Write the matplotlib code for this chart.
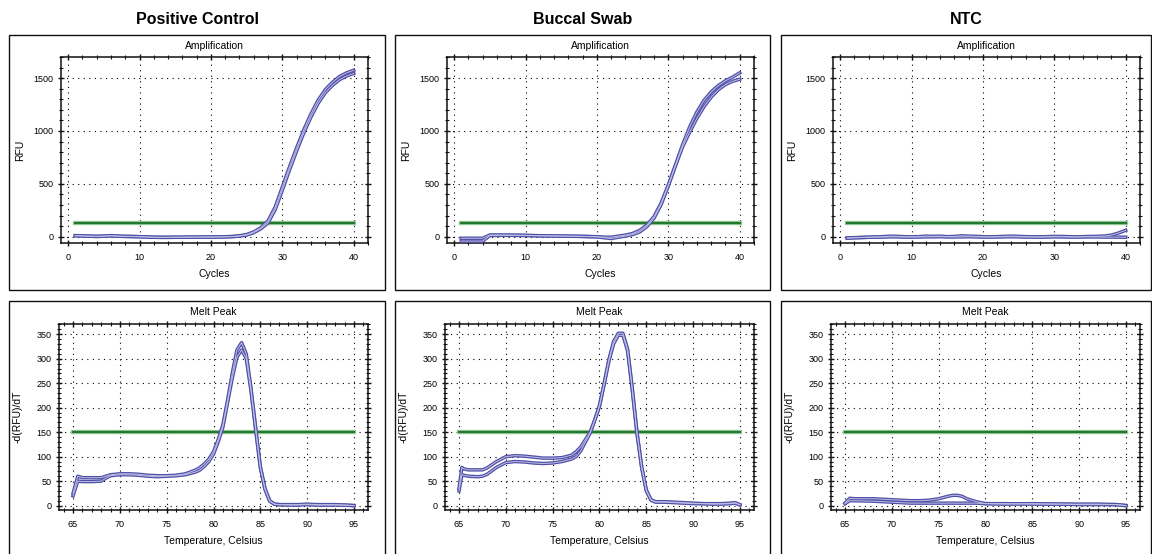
# qPCR amplification and melt peak panels

import numpy as np
import matplotlib
matplotlib.use('Agg')
import matplotlib.pyplot as plt
from matplotlib.patches import Rectangle
from matplotlib.ticker import MultipleLocator

plt.rcParams['font.family'] = ['Liberation Sans', 'DejaVu Sans']

W, H = 1152, 554

# ---- data ----
groups = ['Positive Control', 'Buccal Swab', 'NTC']

cycles = np.arange(1, 41)

pc_amp_a = [10, 8, 5, 3, 5, 10, 5, 3, 2, 0, -2, -5, -6, -6, -5, -5, -4, -4, -3, -3,
            -2, -1, 2, 8, 20, 45, 85, 150, 280, 470, 660, 840, 1010, 1160, 1290, 1390,
            1460, 1515, 1550, 1575]
pc_amp_b = [8, 6, 4, 2, 4, 8, 4, 2, 1, -1, -3, -6, -7, -7, -6, -6, -5, -5, -4, -4,
            -3, -2, 0, 5, 15, 38, 75, 130, 255, 440, 630, 810, 980, 1130, 1260, 1360,
            1430, 1485, 1520, 1545]

bs_amp_a = [-15, -15, -15, -15, 16, 16, 15, 15, 14, 13, 11, 9, 8, 7, 6, 5, 4, 3, 1, 0,
            -5, -5, 5, 15, 30, 60, 110, 190, 320, 490, 680, 870, 1040, 1180, 1290, 1370,
            1430, 1475, 1510, 1550]
bs_amp_b = [-42, -42, -42, -42, 10, 12, 12, 12, 11, 10, 9, 8, 7, 6, 5, 4, 3, 2, 0, -2,
            -10, -18, -5, 5, 20, 45, 95, 175, 305, 480, 670, 850, 990, 1120, 1230, 1320,
            1390, 1440, 1470, 1490]

ntc_amp_a = [-15, -10, -8, -5, -3, 0, 5, 3, 0, -2, 0, 5, 3, 5, 0, 2, 8, 5, 3, 0,
             -2, 0, 3, 5, 3, 0, -2, -3, 0, 3, 2, 0, -2, 0, 2, 3, 6, 15, 35, 60]
ntc_amp_b = [-12, -10, -8, -6, -5, -4, -2, -2, -3, -4, -3, -2, -2, -1, -2, -3, -2, -1, -2, -3,
             -3, -2, -2, -1, -2, -3, -3, -4, -3, -2, -2, -3, -3, -2, -2, -3, -4, -4, -5, -5]

amp_threshold = 125

pc_melt_t = [65, 65.5, 66, 67, 68, 68.5, 69, 70, 71, 72, 73, 74, 75, 76, 77, 78, 78.5, 79,
             79.5, 80, 80.5, 81, 81.5, 82, 82.5, 83, 83.5, 84, 84.5, 85, 85.5, 86, 86.5,
             87, 88, 89, 90, 91, 92, 93, 94, 95]
pc_melt_a = [25, 60, 57, 57, 57, 60, 63, 65, 65, 64, 62, 61, 61, 62, 65, 72, 77, 85,
             95, 110, 135, 165, 215, 270, 318, 333, 310, 240, 160, 80, 35, 10, 3,
             2, 2, 2, 3, 2, 2, 2, 1, 0]
pc_melt_b = [20, 50, 49, 49, 50, 56, 61, 63, 63, 62, 60, 59, 60, 61, 63, 68, 72, 80,
             90, 105, 130, 160, 210, 260, 303, 318, 300, 235, 155, 78, 33, 9, 3,
             2, 1, 1, 2, 1, 1, 1, 1, 0]

bs_melt_t = [65, 65.3, 65.5, 66, 67, 67.5, 68, 69, 70, 71, 72, 73, 74, 75, 76, 77, 77.5,
             78, 78.5, 79, 79.5, 80, 80.5, 81, 81.5, 82, 82.5, 83, 83.5, 84, 84.5, 85,
             85.5, 86, 87, 88, 89, 90, 91, 92, 93, 94, 94.5, 95]
bs_melt_a = [35, 78, 75, 73, 73, 73, 77, 90, 100, 102, 101, 99, 97, 97, 98, 103, 110,
             120, 135, 150, 175, 205, 250, 298, 335, 352, 352, 320, 240, 150, 80, 32,
             12, 8, 8, 7, 6, 5, 4, 4, 4, 5, 6, 2]
bs_melt_b = [30, 63, 62, 60, 59, 60, 64, 78, 88, 90, 89, 87, 86, 87, 90, 95, 100,
             112, 130, 148, 175, 203, 248, 295, 330, 348, 348, 316, 236, 148, 78, 30,
             11, 7, 7, 6, 5, 4, 4, 3, 3, 4, 5, 1]

ntc_melt_t = [65, 65.5, 66, 68, 70, 72, 73, 74, 75, 76, 76.5, 77, 77.5, 78, 79, 80, 82,
              85, 88, 90, 92, 94, 95]
ntc_melt_a = [5, 15, 14, 14, 12, 10, 10, 11, 14, 19, 21, 21, 19, 14, 8, 4, 3,
              4, 3, 3, 3, 2, 0]
ntc_melt_b = [4, 10, 10, 9, 7, 5, 5, 5, 5, 5, 5, 5, 5, 5, 5, 4, 4,
              3, 3, 2, 2, 2, 0]

melt_threshold = 150

amp_data = [(pc_amp_a, pc_amp_b), (bs_amp_a, bs_amp_b), (ntc_amp_a, ntc_amp_b)]
melt_data = [(pc_melt_t, pc_melt_a, pc_melt_b),
             (bs_melt_t, bs_melt_a, bs_melt_b),
             (ntc_melt_t, ntc_melt_a, ntc_melt_b)]


def fx(px):
    return px / W


def fy(py):
    return 1 - py / H


def add_ax(fig, left, top, right, bottom):
    return fig.add_axes([fx(left), fy(bottom), fx(right - left), (bottom - top) / H])


def curve(ax, x, y):
    # tube look: darker rim, light core
    ax.plot(x, y, color='#5050a8', lw=2.5, solid_joinstyle='round', zorder=3)
    ax.plot(x, y, color='#c0c0e6', lw=0.7, solid_joinstyle='round', zorder=4)


def threshold(ax, x0, x1, val):
    ax.plot([x0, x1], [val, val], color='#a8d4a8', lw=3.2, zorder=2)
    ax.plot([x0, x1], [val, val], color='#24772f', lw=1.7, zorder=2.5)


def style(ax, xmaj, xmin, ymaj, ymin):
    ax.xaxis.set_major_locator(MultipleLocator(xmaj))
    ax.xaxis.set_minor_locator(MultipleLocator(xmin))
    ax.yaxis.set_major_locator(MultipleLocator(ymaj))
    ax.yaxis.set_minor_locator(MultipleLocator(ymin))
    ax.tick_params(which='major', direction='inout', length=5, width=1.0,
                   labelsize=6.5, top=True, right=True, color='#111111')
    ax.tick_params(which='minor', direction='inout', length=3, width=0.8,
                   top=True, right=True, color='#111111')
    ax.tick_params(axis='x', which='major', pad=5)
    ax.tick_params(axis='y', which='major', pad=3)
    ax.grid(True, which='major', color='black', lw=0.8, linestyle=(0, (1, 4)))
    for s in ax.spines.values():
        s.set_linewidth(1.1)
        s.set_color('#111111')


fig = plt.figure(figsize=(W / 100, H / 100), dpi=100)

col_shift = [0, 386, 772]
box_lr = [(9, 385), (395, 770), (781, 1151)]

for i in range(3):
    d = col_shift[i]
    bl, br = box_lr[i]

    # panel frames
    fig.patches.append(Rectangle((fx(bl), fy(290)), fx(br - bl), (290 - 35) / H,
                                 transform=fig.transFigure, fill=False,
                                 edgecolor='#111111', lw=1.0))
    fig.patches.append(Rectangle((fx(bl), fy(570)), fx(br - bl), (570 - 301) / H,
                                 transform=fig.transFigure, fill=False,
                                 edgecolor='#111111', lw=1.0))

    cx = (bl + br) / 2
    fig.text(fx(cx), fy(19), groups[i], ha='center', va='center',
             fontsize=11.5, fontweight='bold')

    # amplification
    ax = add_ax(fig, 61 + d, 57, 368 + d, 243)
    a, b = amp_data[i]
    threshold(ax, 1, 40, amp_threshold)
    curve(ax, cycles, a)
    curve(ax, cycles, b)
    ax.set_xlim(-1, 42)
    ax.set_ylim(-60, 1700)
    style(ax, 10, 2, 500, 100)
    fig.text(fx((61 + 368) / 2 + d), fy(46), 'Amplification', ha='center',
             va='center', fontsize=7.5)
    fig.text(fx((61 + 368) / 2 + d), fy(274), 'Cycles', ha='center',
             va='center', fontsize=7.5)
    fig.text(fx(20 + d), fy(150), 'RFU', ha='center', va='center',
             fontsize=7.5, rotation=90)

    # melt peak
    ax2 = add_ax(fig, 59 + d, 324, 368 + d, 510)
    t, ma, mb = melt_data[i]
    threshold(ax2, 65, 95, melt_threshold)
    curve(ax2, t, ma)
    curve(ax2, t, mb)
    ax2.set_xlim(63.5, 96.5)
    ax2.set_ylim(-9, 371)
    style(ax2, 5, 1, 50, 10)
    fig.text(fx((59 + 368) / 2 + d), fy(312), 'Melt Peak', ha='center',
             va='center', fontsize=7.5)
    fig.text(fx((59 + 368) / 2 + d), fy(541), 'Temperature, Celsius', ha='center',
             va='center', fontsize=7.5)
    fig.text(fx(18 + d), fy(417), '-d(RFU)/dT', ha='center', va='center',
             fontsize=7.5, rotation=90)

fig.savefig('out.png', dpi=100)
